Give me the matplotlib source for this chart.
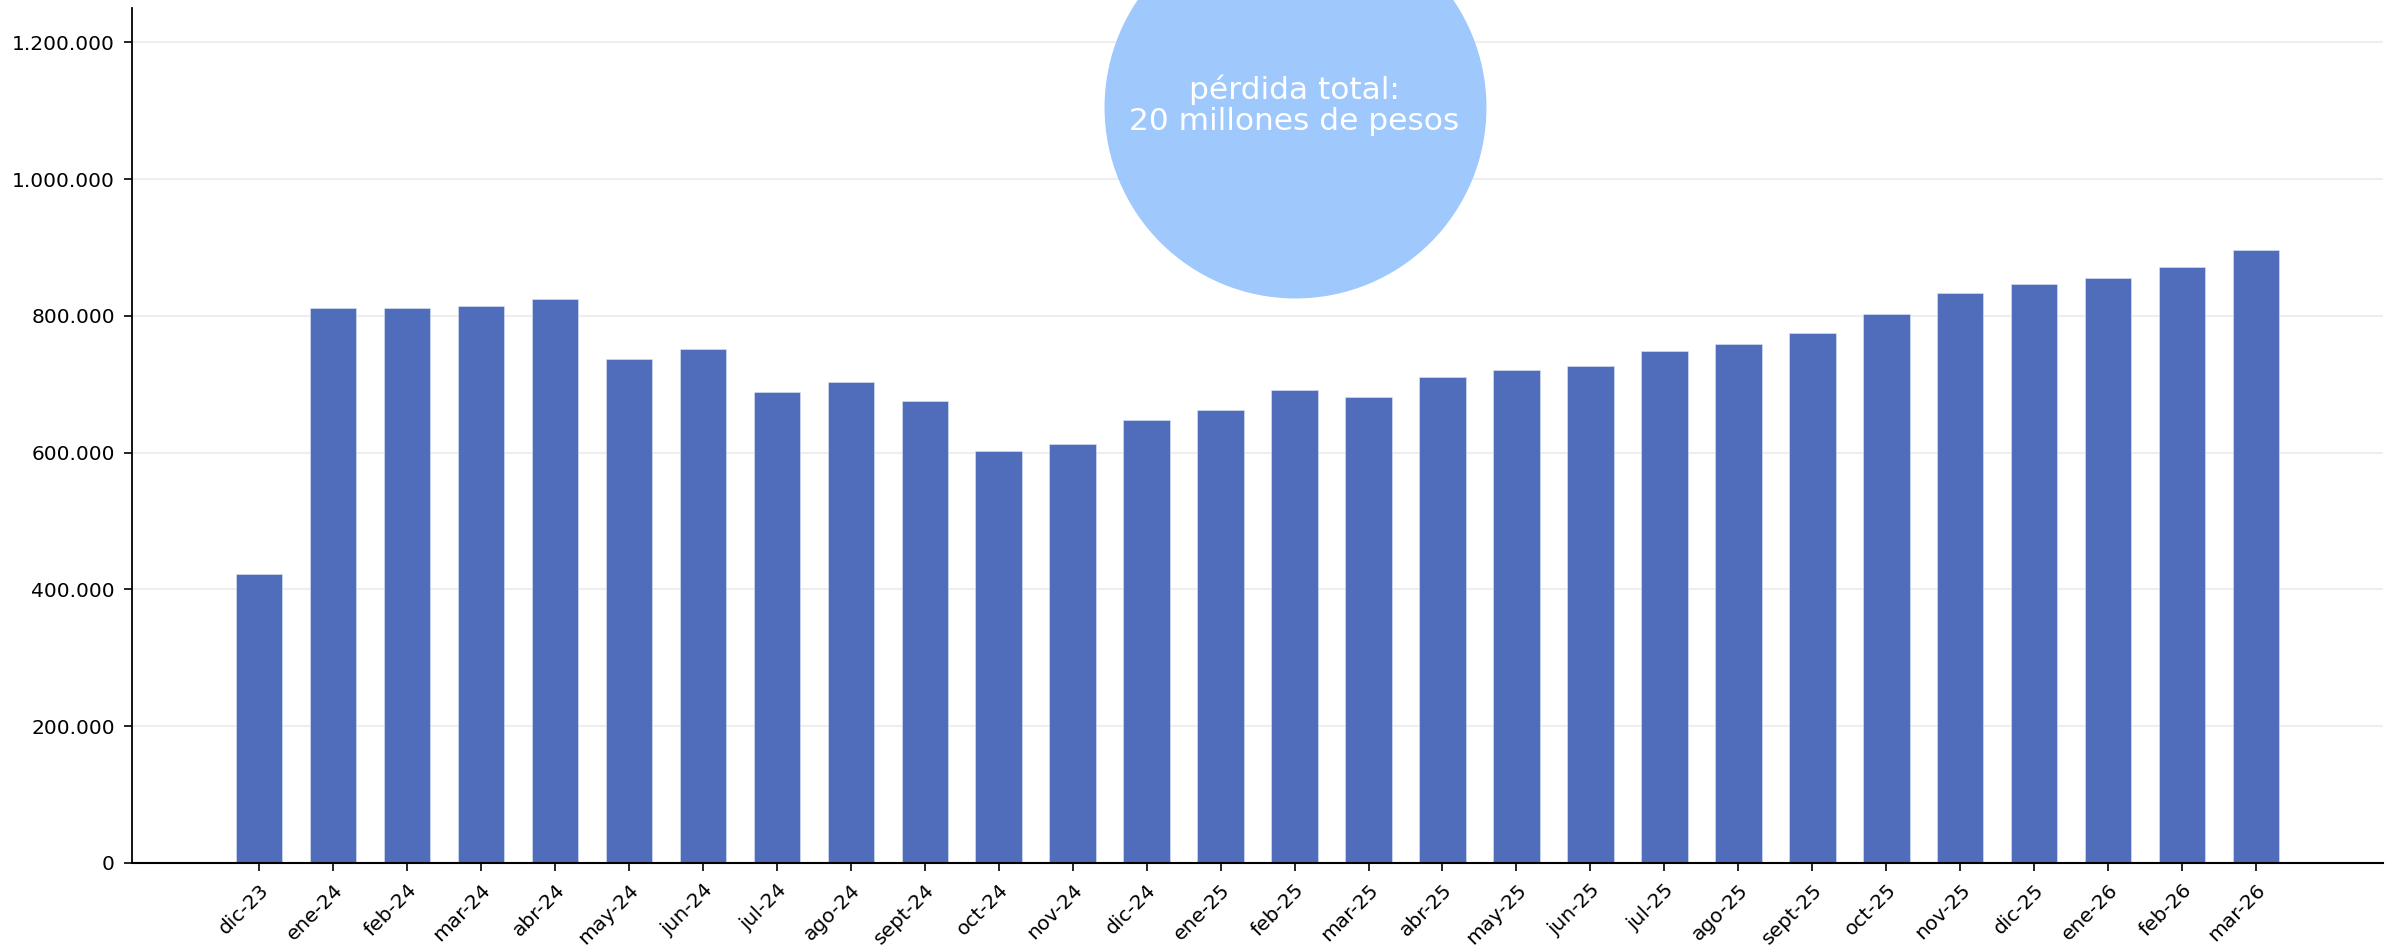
import matplotlib
matplotlib.use("Agg")
import matplotlib.pyplot as plt
from matplotlib.ticker import FuncFormatter

meses = ['dic-23', 'ene-24', 'feb-24', 'mar-24', 'abr-24', 'may-24', 'jun-24',
         'jul-24', 'ago-24', 'sept-24', 'oct-24', 'nov-24', 'dic-24', 'ene-25',
         'feb-25', 'mar-25', 'abr-25', 'may-25', 'jun-25', 'jul-25', 'ago-25',
         'sept-25', 'oct-25', 'nov-25', 'dic-25', 'ene-26', 'feb-26', 'mar-26']
perdida = [423000, 811000, 811000, 814000, 825000, 737000, 752000,
           689000, 704000, 676000, 603000, 612000, 647000, 663000,
           691000, 682000, 711000, 721000, 726000, 748000, 759000,
           775000, 803000, 834000, 847000, 856000, 871000, 896000]
texto_circulo = 'pérdida total:\n20 millones de pesos'

fig = plt.figure(figsize=(24, 9.52), dpi=100)
ax = fig.add_axes([0.055, 0.0935, 0.938, 0.898])

x = range(len(meses))
ax.bar(x, perdida, width=0.63, color='#4f6dba', edgecolor='#dfe6f5', linewidth=0.4, zorder=2)

ax.set_xlim(-1.72, len(meses) - 1 + 1.72)
ax.set_ylim(0, 1250000)
ax.set_yticks(range(0, 1200001, 200000))
ax.yaxis.set_major_formatter(FuncFormatter(lambda v, p: f'{int(v):,}'.replace(',', '.')))
ax.set_xticks(list(x))
ax.set_xticklabels(meses, rotation=45, ha='right', rotation_mode='anchor')
ax.tick_params(axis='both', labelsize=14.5, length=5.8, width=1.2, pad=6.5)

ax.grid(axis='y', color='#eeeeee', linewidth=1.5, zorder=0)
ax.spines['top'].set_visible(False)
ax.spines['right'].set_visible(False)
ax.spines['left'].set_linewidth(1.3)
ax.spines['bottom'].set_linewidth(1.5)

# circulo con el total
ax.scatter([14], [1105000], s=275**2, color='#9fc8fd', zorder=3, clip_on=False, linewidths=0)
ax.text(14, 1108000, texto_circulo, ha='center', va='center', color='white',
        fontsize=22.5, linespacing=1.1, zorder=4)

plt.savefig('out.png', dpi=100)
